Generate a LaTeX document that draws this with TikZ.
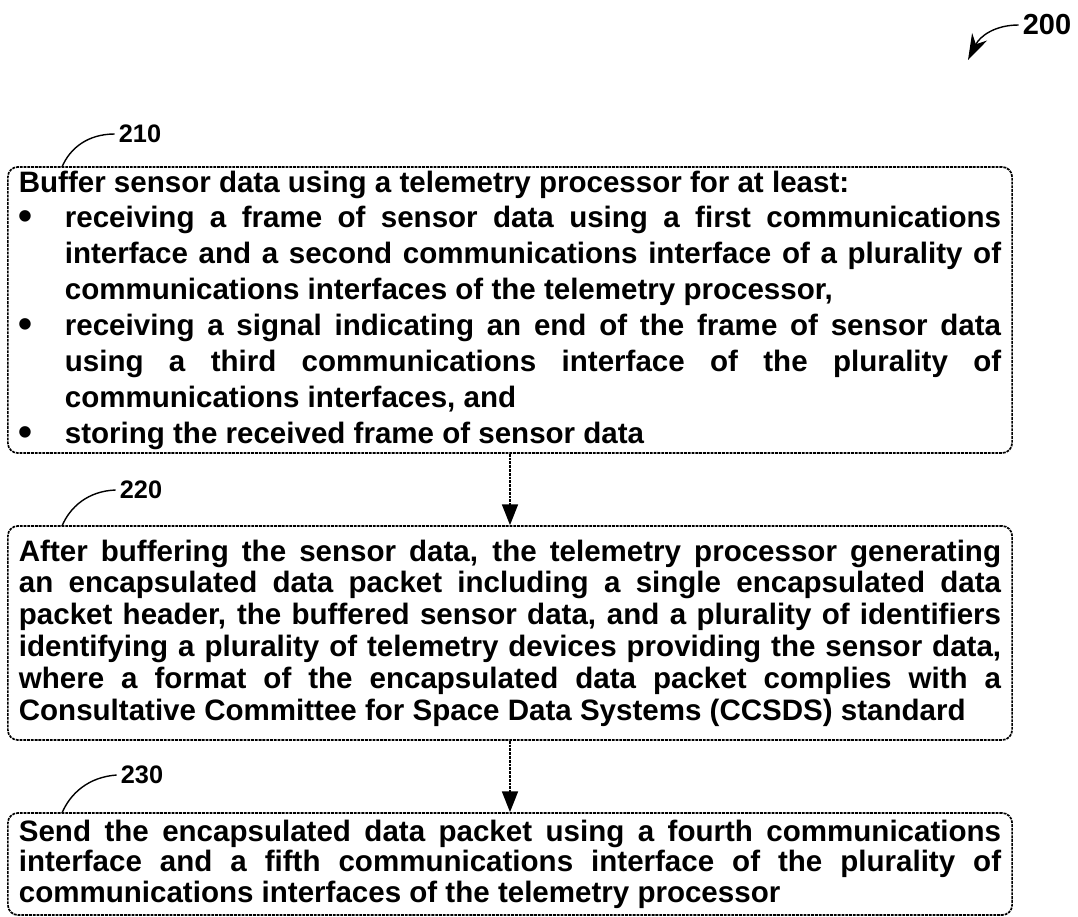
\documentclass[tikz,border=0pt]{standalone}
\usepackage{fontspec}
\setmainfont{Liberation Sans}
\usetikzlibrary{arrows.meta}
\newcommand{\bitem}{\par\noindent\hangindent=1.15cm\hangafter=1\makebox[1.15cm][l]{\raisebox{-0.07em}{\scalebox{1.35}{\textbullet}}}}
\begin{document}
\begin{tikzpicture}[x=0.025cm,y=-0.025cm,
    stepbox/.style={draw,rounded corners=0.25cm,line width=1.2pt,dash pattern=on 2pt off 0.7pt,
      text width=24.55cm,inner xsep=0.275cm,inner ysep=0pt,align=justify,
      font=\bfseries\fontsize{21pt}{#1}\selectfont},
    flow/.style={-{Triangle[length=0.52cm,width=0.4cm]},line width=1.2pt,dash pattern=on 2pt off 0.7pt},
    reflabel/.style={inner sep=0.1cm,font=\bfseries\fontsize{18pt}{18pt}\selectfont},
    lead/.style={line width=1pt}]
    \useasboundingbox (0,0) rectangle (1078,916);
    \node[stepbox=25.5pt,minimum height=7.15cm] (A) at (510,310) {
      Buffer sensor data using a telemetry processor for at least:
      \bitem receiving a frame of sensor data using a first communications\linebreak
      interface and a second communications interface of a plurality of\linebreak
      communications interfaces of the telemetry processor,
      \bitem receiving a signal indicating an end of the frame of sensor data\linebreak
      using a third communications interface of the plurality of\linebreak
      communications interfaces, and
      \bitem storing the received frame of sensor data\par};
    \node[stepbox=22.6pt,minimum height=5.35cm] (B) at (510,633) {
      After buffering the sensor data, the telemetry processor generating\linebreak
      an encapsulated data packet including a single encapsulated data\linebreak
      packet header, the buffered sensor data, and a plurality of identifiers\linebreak
      identifying a plurality of telemetry devices providing the sensor data,\linebreak
      where a format of the encapsulated data packet complies with a\linebreak
      Consultative Committee for Space Data Systems (CCSDS) standard\par};
    \node[stepbox=21.6pt,minimum height=2.55cm] (C) at (510,864) {
      Send the encapsulated data packet using a fourth communications\linebreak
      interface and a fifth communications interface of the plurality of\linebreak
      communications interfaces of the telemetry processor\par};
    \draw[flow] (A) -- (B);
    \draw[flow] (B) -- (C);
    \node[reflabel] (L1) at (140,134) {210};
    \coordinate (a1) at (62,167);
    \draw[lead] (a1) .. controls (70,148) and (88,134) .. (L1.west);
    \node[reflabel] (L2) at (141,490) {220};
    \coordinate (a2) at (62,526);
    \draw[lead] (a2) .. controls (70,507) and (88,491) .. (L2.west);
    \node[reflabel] (L3) at (142,775) {230};
    \coordinate (a3) at (62,813);
    \draw[lead] (a3) .. controls (70,794) and (88,777) .. (L3.west);
    \node[reflabel,font=\bfseries\fontsize{20.6pt}{20.6pt}\selectfont] (L0) at (1047,25) {200};
    \coordinate (t0) at (968,60);
    \draw[line width=1pt,-{Stealth[length=0.65cm,width=0.42cm]}] (L0.west) .. controls (995,25) and (980,36) .. (t0);
\end{tikzpicture}
\end{document}
